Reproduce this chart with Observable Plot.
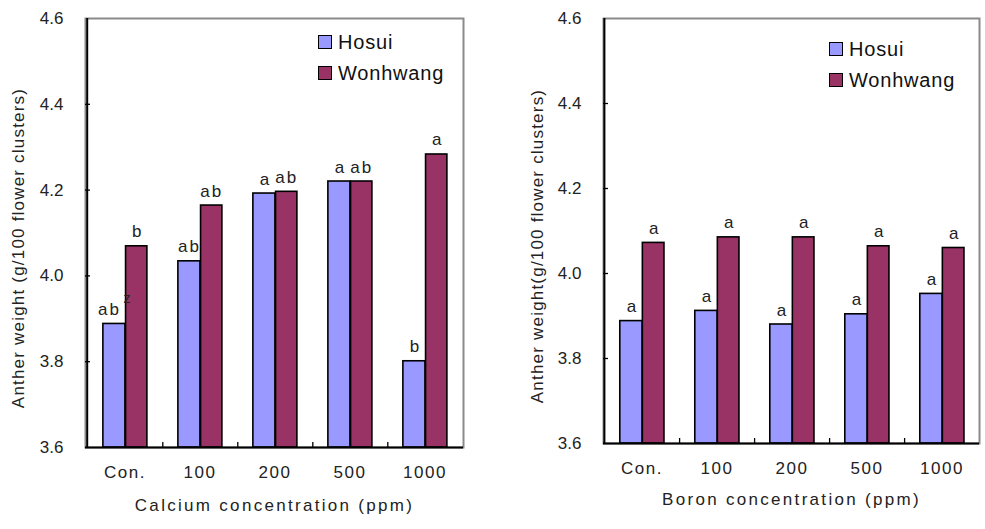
<!DOCTYPE html>
<html><head><meta charset="utf-8">
<script src="https://cdn.jsdelivr.net/npm/d3@7"></script>
<script src="https://cdn.jsdelivr.net/npm/@observablehq/plot@0.6"></script>
<style>
body{margin:0;background:#fff;}
#wrap{position:relative;width:985px;height:529px;font-family:"Liberation Sans",Arial,sans-serif;overflow:hidden;}
.panel{position:absolute;top:0;}
.lg{position:absolute;font-size:20px;line-height:20px;color:#111;letter-spacing:0.8px;white-space:nowrap;}
.sw{position:absolute;width:12px;height:12px;border:1.5px solid #000;}
</style></head><body><div id="wrap"></div>
<script>
const categories = ["Con.", "100", "200", "500", "1000"];
const series = ["Hosui", "Wonhwang"];
const calciumHosui = [3.888, 4.034, 4.192, 4.220, 3.801];
const calciumWonhwang = [4.069, 4.164, 4.196, 4.220, 4.283];
const boronHosui = [3.888, 3.912, 3.880, 3.904, 3.952];
const boronWonhwang = [4.072, 4.085, 4.085, 4.064, 4.060];
const calciumHosuiLetters = ["ab", "ab", "a", "a", "b"];
const calciumWonhwangLetters = ["b", "ab", "ab", "ab", "a"];
const calciumSuperscript = ["z", "", "", "", ""];
const boronHosuiLetters = ["a", "a", "a", "a", "a"];
const boronWonhwangLetters = ["a", "a", "a", "a", "a"];
const yTicks = [3.6, 3.8, 4.0, 4.2, 4.4, 4.6];
const colors = ["#9999ff", "#993366"];

const wrap = document.getElementById("wrap");

function panel(o) {
  const H = 529;
  const pw = o.width - o.ml - o.mr, ph = H - o.mt - o.mb;
  const bw = pw / categories.length;
  const f = [0.21, 0.51, 0.80];
  const rows = categories.map((c, i) => ({c, h: o.hosui[i], w: o.won[i], hl: o.hl[i], wl: o.wl[i], sup: o.sup ? o.sup[i] : ""}));
  const plain = rows.filter(d => !d.sup), withSup = rows.filter(d => d.sup);
  const fs = 17;
  const hc = ((f[0] + f[1]) / 2 - 0.5) * bw;
  const chart = Plot.plot({
    width: o.width, height: H,
    marginLeft: o.ml, marginRight: o.mr, marginTop: o.mt, marginBottom: o.mb,
    style: {fontFamily: '"Liberation Sans", Arial, sans-serif', fontSize: fs + "px", color: "#222", background: "white", overflow: "visible"},
    x: {type: "band", domain: categories, padding: 0, label: null},
    y: {domain: [3.6, 4.6], label: null},
    marks: [
      Plot.frame({stroke: "#8a8a8a", strokeWidth: 2}),
      Plot.barY(rows, {x: "c", y1: 3.6, y2: "h", fill: colors[0], stroke: "#000", strokeWidth: 1.6, insetLeft: f[0] * bw, insetRight: (1 - f[1]) * bw}),
      Plot.barY(rows, {x: "c", y1: 3.6, y2: "w", fill: colors[1], stroke: "#000", strokeWidth: 1.6, insetLeft: f[1] * bw, insetRight: (1 - f[2]) * bw}),
      Plot.text(plain, {x: "c", y: "h", text: "hl", dx: hc, dy: -9, lineAnchor: "bottom", fontSize: fs, fill: "#222"}),
      Plot.text(withSup, {x: "c", y: "h", text: "hl", dx: hc - 5, dy: -9, lineAnchor: "bottom", fontSize: fs, fill: "#222"}),
      Plot.text(withSup, {x: "c", y: "h", text: "sup", dx: hc + 9, dy: -21, lineAnchor: "bottom", textAnchor: "start", fontSize: 14, fill: "#222"}),
      Plot.text(rows, {x: "c", y: "w", text: "wl", dx: ((f[1] + f[2]) / 2 - 0.5) * bw, dy: -9, lineAnchor: "bottom", fontSize: fs, fill: "#222"}),
      Plot.tickY(yTicks.slice(1, -1), {y: d => d, insetRight: pw - 5, stroke: "#000", strokeWidth: 1.3}),
      Plot.tickX(categories.slice(0, -1), {x: d => d, dx: bw / 2, insetTop: ph - 5, stroke: "#000", strokeWidth: 1.3}),
      Plot.tickX(categories.slice(0, 1), {x: d => d, dx: -bw / 2, stroke: "#000", strokeWidth: 2}),
      Plot.ruleY([3.6], {stroke: "#000", strokeWidth: 2}),
      Plot.axisY({ticks: yTicks, tickSize: 0, tickPadding: 22, tickFormat: d3.format(".1f"), label: null, fontSize: fs}),
      Plot.axisX({tickSize: 0, tickPadding: 18, label: null, fontSize: fs}),
      Plot.text([o.xLabel], {frameAnchor: "bottom", dy: o.xdy, lineAnchor: "middle", textAnchor: "middle", fontSize: fs, fill: "#222"}),
      Plot.text([o.yLabel], {frameAnchor: "left", rotate: -90, dx: o.ydx, dy: 15, lineAnchor: "middle", textAnchor: "middle", fontSize: fs, fill: "#222"})
    ]
  });
  const s = d3.select(chart);
  s.selectAll("text").each(function() {
    const t = this.textContent;
    if (t === o.xLabel) this.style.letterSpacing = "2.3px";
    else if (t === o.yLabel) this.style.letterSpacing = "1.2px";
    else if (t === "ab") this.style.letterSpacing = "2px";
  });
  s.selectAll('g[aria-label="x-axis tick label"] text').style("letter-spacing", "1.5px");
  const div = document.createElement("div");
  div.className = "panel";
  div.style.left = o.left + "px";
  div.appendChild(chart);
  wrap.appendChild(div);
  // legend
  series.forEach((name, i) => {
    const sw = document.createElement("div");
    sw.className = "sw";
    sw.style.left = o.lgx + "px";
    sw.style.top = (o.lgy + i * o.lgstep) + "px";
    sw.style.background = colors[i];
    wrap.appendChild(sw);
    const t = document.createElement("div");
    t.className = "lg";
    t.style.left = (o.lgx + 20) + "px";
    t.style.top = (o.lgy + i * o.lgstep - 3) + "px";
    t.textContent = name;
    wrap.appendChild(t);
  });
}

panel({left: 0, width: 490, ml: 85, mr: 27, mt: 18, mb: 82, hosui: calciumHosui, won: calciumWonhwang,
  hl: calciumHosuiLetters, wl: calciumWonhwangLetters, sup: calciumSuperscript,
  xLabel: "Calcium concentration (ppm)", yLabel: "Anther weight (g/100 flower clusters)", xdy: 58, ydx: -67,
  lgx: 318, lgy: 35, lgstep: 31});
panel({left: 495, width: 490, ml: 108, mr: 6, mt: 18, mb: 86, hosui: boronHosui, won: boronWonhwang,
  hl: boronHosuiLetters, wl: boronWonhwangLetters, sup: null,
  xLabel: "Boron concentration (ppm)", yLabel: "Anther weight(g/100 flower clusters)", xdy: 56, ydx: -66,
  lgx: 829, lgy: 42, lgstep: 31});
</script></body></html>
